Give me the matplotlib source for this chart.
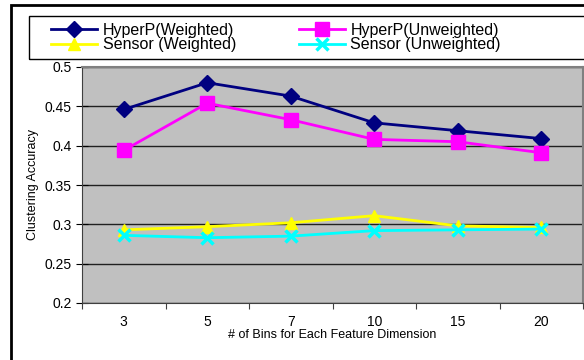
import numpy as np
import matplotlib.pyplot as plt
from matplotlib.patches import Rectangle

plt.rcParams['font.family'] = ['Liberation Sans', 'DejaVu Sans']

# данные
bins = ['3', '5', '7', '10', '15', '20']
hyper_w = [0.446, 0.480, 0.463, 0.429, 0.419, 0.409]
hyper_u = [0.394, 0.454, 0.433, 0.408, 0.405, 0.391]
sensor_w = [0.293, 0.297, 0.302, 0.311, 0.298, 0.296]
sensor_u = [0.286, 0.283, 0.285, 0.292, 0.293, 0.294]

W, H = 584, 360
fig = plt.figure(figsize=(W / 100, H / 100), dpi=100)

# внешняя рамка
fig.patches.append(Rectangle((11 / W, -0.02), 1.0, 1 - 5 / H + 0.02, transform=fig.transFigure,
                             fill=False, edgecolor='black', linewidth=2))
# рамка легенды
fig.patches.append(Rectangle((29 / W, 1 - 59 / H), 1.0, 43 / H, transform=fig.transFigure,
                             fill=False, edgecolor='black', linewidth=1))

ax = fig.add_axes([82 / W, 1 - 303 / H, (583 - 82) / W, (303 - 67) / H])
ax.set_facecolor('#C0C0C0')
x = np.arange(len(bins))

l1, = ax.plot(x, hyper_w, color='#000080', marker='D', markersize=8, linewidth=2, label='HyperP(Weighted)')
l2, = ax.plot(x, hyper_u, color='#FF00FF', marker='s', markersize=10, linewidth=2, label='HyperP(Unweighted)')
l3, = ax.plot(x, sensor_w, color='#FFFF00', marker='^', markersize=9, linewidth=2, label='Sensor (Weighted)')
l4, = ax.plot(x, sensor_u, color='#00FFFF', marker='x', markersize=9, markeredgewidth=2.5, linewidth=2,
              label='Sensor (Unweighted)')

ax.set_xlim(-0.5, len(bins) - 0.5)
ax.set_ylim(0.2, 0.5)
ax.set_yticks(np.arange(0.2, 0.501, 0.05))
ax.set_yticklabels(['0.2', '0.25', '0.3', '0.35', '0.4', '0.45', '0.5'], fontsize=10)
ax.set_xticks(np.arange(-0.5, len(bins), 1.0))
ax.set_xticklabels([])
ax.set_xticks(x, minor=True)
ax.set_xticklabels(bins, minor=True, fontsize=10)
ax.tick_params(axis='x', which='minor', length=0, pad=9)
ax.tick_params(axis='x', which='major', direction='out', length=4, color='#404040')
ax.tick_params(axis='y', direction='inout', length=8, color='black')
ax.grid(True, axis='y', color='#202020', linewidth=1)
ax.set_axisbelow(True)
for s in ['top', 'right']:
    ax.spines[s].set_color('#808080')
    ax.spines[s].set_linewidth(1.5)
ax.spines['left'].set_color('#404040')
ax.spines['bottom'].set_color('#404040')

ax.set_xlabel('# of Bins for Each Feature Dimension', fontsize=9, labelpad=0)
ax.set_ylabel('Clustering Accuracy', fontsize=9, labelpad=4)

leg = fig.legend(handles=[l1, l3, l2, l4], ncol=2, loc='upper left',
                 bbox_to_anchor=(51 / W, 1 - 23 / H), fontsize=11.5, frameon=False,
                 borderpad=0, labelspacing=-0.05, handlelength=2.9, handletextpad=0.35,
                 columnspacing=3.9, borderaxespad=0)

plt.savefig('out.png', dpi=100)
